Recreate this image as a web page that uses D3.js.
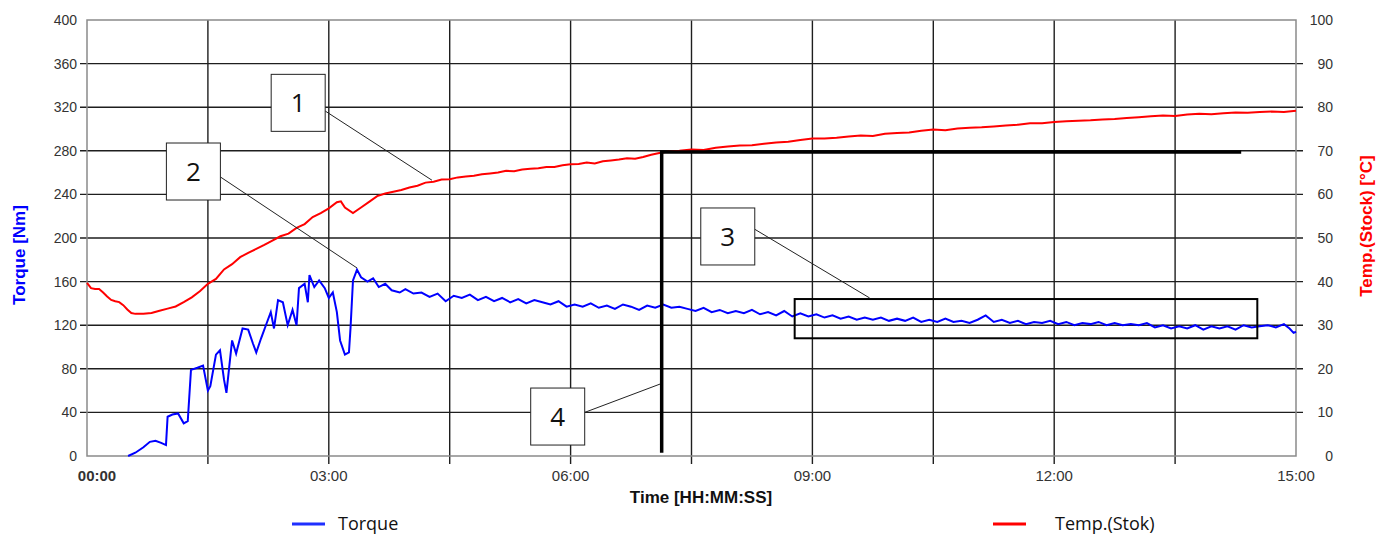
<!DOCTYPE html>
<html>
<head>
<meta charset="utf-8">
<script src="https://cdn.jsdelivr.net/npm/d3@7"></script>
<style>
  body { margin: 0; background: #fff; }
  svg { display: block; }
</style>
</head>
<body>
<script>
// Time in minutes, torque in Nm, temperature in °C
const torqueTime = [0.51, 0.6, 0.7, 0.78, 0.85, 0.92, 0.98, 1.0, 1.06, 1.13, 1.2, 1.25, 1.29, 1.37, 1.44, 1.5, 1.53, 1.6, 1.65, 1.7, 1.73, 1.8, 1.85, 1.93, 2.0, 2.06, 2.1, 2.16, 2.23, 2.28, 2.32, 2.37, 2.43, 2.49, 2.55, 2.6, 2.63, 2.7, 2.74, 2.76, 2.82, 2.88, 2.95, 3.0, 3.05, 3.1, 3.14, 3.2, 3.25, 3.27, 3.3, 3.35, 3.4, 3.48, 3.55, 3.62, 3.7, 3.78, 3.88, 3.95, 4.05, 4.15, 4.25, 4.35, 4.45, 4.55, 4.65, 4.75, 4.85, 4.95, 5.05, 5.15, 5.25, 5.35, 5.45, 5.55, 5.65, 5.75, 5.85, 5.95, 6.05, 6.15, 6.25, 6.35, 6.45, 6.55, 6.65, 6.75, 6.85, 6.95, 7.05, 7.15, 7.25, 7.35, 7.45, 7.55, 7.65, 7.75, 7.85, 7.95, 8.05, 8.15, 8.25, 8.35, 8.45, 8.55, 8.65, 8.75, 8.85, 8.95, 9.05, 9.15, 9.25, 9.35, 9.45, 9.55, 9.65, 9.75, 9.85, 9.95, 10.05, 10.15, 10.25, 10.35, 10.45, 10.55, 10.65, 10.75, 10.85, 10.95, 11.05, 11.15, 11.25, 11.35, 11.45, 11.55, 11.65, 11.75, 11.85, 11.95, 12.05, 12.15, 12.25, 12.35, 12.45, 12.55, 12.65, 12.75, 12.85, 12.95, 13.05, 13.15, 13.25, 13.35, 13.45, 13.55, 13.65, 13.75, 13.85, 13.95, 14.05, 14.15, 14.25, 14.35, 14.45, 14.55, 14.65, 14.75, 14.85, 14.92, 14.97, 15.0];
const torqueValues = [0, 3, 8, 13, 14, 12, 10, 36, 38, 39, 30, 32, 79, 81, 83, 60, 64, 93, 97, 70, 58, 106, 94, 117, 116, 103, 95, 108, 122, 132, 117, 143, 141, 120, 134, 120, 154, 158, 141, 166, 155, 161, 154, 145, 150, 132, 106, 93, 95, 118, 161, 171, 164, 160, 163, 155, 158, 152, 150, 153, 149, 150, 146, 149, 142, 147, 145, 148, 143, 146, 142, 145, 141, 144, 140, 143, 141, 139, 142, 137, 139, 137, 140, 136, 138, 135, 139, 137, 134, 138, 136, 139, 136, 137, 135, 133, 136, 132, 134, 131, 133, 131, 134, 130, 132, 129, 133, 128, 131, 128, 130, 127, 129, 126, 128, 125, 127, 125, 127, 124, 126, 124, 127, 123, 125, 123, 126, 123, 124, 122, 125, 129, 123, 125, 122, 124, 121, 123, 122, 124, 121, 123, 120, 122, 121, 123, 120, 122, 120, 121, 120, 122, 118, 120, 117, 119, 117, 120, 116, 119, 117, 119, 116, 120, 118, 119, 120, 118, 121, 117, 113, 114];

const tempTime = [0, 0.05, 0.1, 0.15, 0.2, 0.25, 0.3, 0.35, 0.4, 0.45, 0.5, 0.55, 0.6, 0.7, 0.8, 0.9, 1.0, 1.1, 1.2, 1.3, 1.4, 1.5, 1.6, 1.7, 1.8, 1.9, 2.0, 2.1, 2.2, 2.3, 2.4, 2.5, 2.6, 2.7, 2.8, 2.9, 3.0, 3.1, 3.15, 3.2, 3.3, 3.4, 3.5, 3.6, 3.7, 3.8, 3.9, 4.0, 4.1, 4.2, 4.3, 4.4, 4.5, 4.6, 4.7, 4.8, 4.9, 5.0, 5.1, 5.2, 5.3, 5.4, 5.5, 5.6, 5.7, 5.8, 5.9, 6.0, 6.1, 6.2, 6.3, 6.4, 6.5, 6.6, 6.7, 6.8, 6.9, 7.0, 7.1, 7.2, 7.35, 7.5, 7.65, 7.8, 7.95, 8.1, 8.25, 8.4, 8.55, 8.7, 8.85, 9.0, 9.15, 9.3, 9.45, 9.6, 9.75, 9.9, 10.05, 10.2, 10.35, 10.5, 10.65, 10.8, 10.95, 11.1, 11.25, 11.4, 11.55, 11.7, 11.85, 12.0, 12.15, 12.3, 12.45, 12.6, 12.75, 12.9, 13.05, 13.2, 13.35, 13.5, 13.65, 13.8, 13.95, 14.1, 14.25, 14.4, 14.55, 14.7, 14.85, 15.0];
const tempValues = [39.7, 38.5, 38.3, 38.3, 37.5, 36.6, 35.8, 35.5, 35.3, 34.6, 33.6, 32.8, 32.6, 32.6, 32.8, 33.3, 33.8, 34.3, 35.3, 36.4, 37.8, 39.5, 40.6, 42.8, 44.0, 45.6, 46.6, 47.5, 48.4, 49.4, 50.4, 51.0, 52.3, 53.2, 54.8, 55.7, 56.8, 58.2, 58.4, 57.0, 55.7, 57.0, 58.3, 59.6, 60.2, 60.6, 61.0, 61.6, 62.0, 62.7, 62.9, 63.4, 63.5, 63.9, 64.1, 64.3, 64.6, 64.8, 65.0, 65.4, 65.3, 65.7, 65.9, 66.0, 66.3, 66.3, 66.7, 66.9, 67.0, 67.3, 67.1, 67.6, 67.8, 68.0, 68.3, 68.2, 68.6, 69.1, 69.5, 69.8, 70.0, 70.3, 70.2, 70.7, 71.0, 71.2, 71.3, 71.6, 71.9, 72.1, 72.5, 72.8, 72.8, 73.0, 73.3, 73.5, 73.4, 73.9, 74.1, 74.2, 74.6, 74.9, 74.7, 75.1, 75.3, 75.4, 75.6, 75.8, 76.0, 76.3, 76.3, 76.6, 76.8, 76.9, 77.0, 77.2, 77.3, 77.5, 77.7, 77.9, 78.1, 78.0, 78.3, 78.5, 78.4, 78.6, 78.8, 78.7, 78.9, 79.0, 78.9, 79.2];

const torqueTicks = [0, 40, 80, 120, 160, 200, 240, 280, 320, 360, 400];
const tempTicks = [0, 10, 20, 30, 40, 50, 60, 70, 80, 90, 100];
const gridTimes = [0, 1.5, 3, 4.5, 6, 7.5, 9, 10.5, 12, 13.5, 15];
const labelTimes = [0, 3, 6, 9, 12, 15];

// numbered callouts: box centre and leader target, in (minutes, Nm)
const callouts = [
  { label: "1", t: 2.62, q: 324, fromQ: 316.5, toT: 4.28, toQ: 253 },
  { label: "2", t: 1.32, q: 261, fromQ: 256, toT: 3.35, toQ: 172.5 },
  { label: "3", t: 7.95, q: 201.4, fromQ: 208, toT: 9.71, toQ: 145 },
  { label: "4", t: 5.84, q: 36.2, fromQ: 40, toT: 7.11, toQ: 66 }
];

const width = 1387;
const height = 535;
const margin = { top: 20, right: 91, bottom: 79, left: 87 };

const x = d3.scaleLinear().domain([0, 15]).range([margin.left, width - margin.right]);
const yL = d3.scaleLinear().domain([0, 400]).range([height - margin.bottom, margin.top]);
const yR = d3.scaleLinear().domain([0, 100]).range([height - margin.bottom, margin.top]);

const fmtTime = t => `${String(Math.floor(t)).padStart(2, '0')}:00`;

const svg = d3.select('body').append('svg')
    .attr('width', width)
    .attr('height', height);

const tickFont = '"Liberation Sans", Arial, sans-serif';

// horizontal grid lines (extend a bit past the plot on both sides)
svg.append('g')
  .selectAll('line')
  .data(torqueTicks.slice(1, -1))
  .join('line')
    .attr('x1', x(0) - 7)
    .attr('x2', x(15) + 7)
    .attr('y1', d => yL(d))
    .attr('y2', d => yL(d))
    .style('stroke', '#1e1e1e')
    .style('stroke-width', 1.4);

// vertical grid lines
svg.append('g')
  .selectAll('line')
  .data(gridTimes.slice(1, -1))
  .join('line')
    .attr('x1', d => x(d))
    .attr('x2', d => x(d))
    .attr('y1', yL(400))
    .attr('y2', yL(0) + 8)
    .style('stroke', '#1e1e1e')
    .style('stroke-width', 1.4);

// plot frame
svg.append('rect')
    .attr('x', x(0))
    .attr('y', yL(400))
    .attr('width', x(15) - x(0))
    .attr('height', yL(0) - yL(400))
    .style('fill', 'none')
    .style('stroke', '#8a8a8a')
    .style('stroke-width', 1.5);

// left axis labels
svg.append('g')
  .selectAll('text')
  .data(torqueTicks)
  .join('text')
    .attr('x', x(0) - 10)
    .attr('y', d => yL(d))
    .attr('dy', '0.35em')
    .attr('text-anchor', 'end')
    .style('font-family', tickFont)
    .style('font-size', '14px')
    .style('fill', '#333')
    .text(d => d);

// right axis labels
svg.append('g')
  .selectAll('text')
  .data(tempTicks)
  .join('text')
    .attr('x', x(15) + 37)
    .attr('y', d => yR(d))
    .attr('dy', '0.35em')
    .attr('text-anchor', 'end')
    .style('font-family', tickFont)
    .style('font-size', '14px')
    .style('fill', '#333')
    .text(d => d);

// bottom axis labels
svg.append('g')
  .selectAll('text')
  .data(labelTimes)
  .join('text')
    .attr('x', d => x(d) + (d === 0 ? 10 : 0))
    .attr('y', yL(0) + 25)
    .attr('text-anchor', 'middle')
    .style('font-family', tickFont)
    .style('font-size', '15px')
    .style('font-weight', d => d === 0 ? 'bold' : 'normal')
    .style('fill', '#333')
    .text(fmtTime);

// axis titles
svg.append('text')
    .attr('transform', `translate(25,${(yL(0) + yL(400)) / 2 + 17}) rotate(-90)`)
    .attr('text-anchor', 'middle')
    .style('font-family', tickFont)
    .style('font-size', '17px')
    .style('font-weight', 'bold')
    .style('fill', '#0000ff')
    .text('Torque [Nm]');

svg.append('text')
    .attr('transform', `translate(1372,${(yL(0) + yL(400)) / 2 - 12}) rotate(-90)`)
    .attr('text-anchor', 'middle')
    .style('font-family', tickFont)
    .style('font-size', '17px')
    .style('font-weight', 'bold')
    .style('fill', '#ff0000')
    .text('Temp.(Stock) [°C]');

svg.append('text')
    .attr('x', 701)
    .attr('y', 503)
    .attr('text-anchor', 'middle')
    .style('font-family', tickFont)
    .style('font-size', '17px')
    .style('font-weight', 'bold')
    .style('fill', '#111')
    .text('Time [HH:MM:SS]');

// series
const torqueData = torqueTime.map((t, i) => [t, torqueValues[i]]);
const tempData = tempTime.map((t, i) => [t, tempValues[i]]);

const torqueLine = d3.line()
    .x(d => x(d[0]))
    .y(d => yL(d[1]));

const tempLine = d3.line()
    .x(d => x(d[0]))
    .y(d => yR(d[1]));

svg.append('path')
    .datum(tempData)
    .attr('d', tempLine)
    .style('fill', 'none')
    .style('stroke', '#ff0000')
    .style('stroke-width', 2);

svg.append('path')
    .datum(torqueData)
    .attr('d', torqueLine)
    .style('fill', 'none')
    .style('stroke', '#0000ff')
    .style('stroke-width', 2);

// thick L marker at 280 Nm / 70 °C
svg.append('path')
    .attr('d', d3.line()([[x(7.13), yL(3)], [x(7.13), yL(279)], [x(14.32), yL(279)]]))
    .style('fill', 'none')
    .style('stroke', '#000')
    .style('stroke-width', 3.5);

// highlight box around steady torque
svg.append('rect')
    .attr('x', x(8.78))
    .attr('y', yL(144))
    .attr('width', x(14.52) - x(8.78))
    .attr('height', yL(108) - yL(144))
    .style('fill', 'none')
    .style('stroke', '#000')
    .style('stroke-width', 2);

// callouts
const boxW = 54;
const boxH = 57;
const callout = svg.append('g')
  .selectAll('g')
  .data(callouts)
  .join('g');

callout.append('line')
    .attr('x1', d => x(d.t) + boxW / 2)
    .attr('y1', d => yL(d.fromQ))
    .attr('x2', d => x(d.toT))
    .attr('y2', d => yL(d.toQ))
    .style('stroke', '#222')
    .style('stroke-width', 1);

callout.append('rect')
    .attr('x', d => x(d.t) - boxW / 2)
    .attr('y', d => yL(d.q) - boxH / 2)
    .attr('width', boxW)
    .attr('height', boxH)
    .style('fill', '#fff')
    .style('stroke', '#222')
    .style('stroke-width', 1);

callout.append('text')
    .attr('x', d => x(d.t))
    .attr('y', d => yL(d.q))
    .attr('dy', '0.36em')
    .attr('text-anchor', 'middle')
    .style('font-family', '"Open Sans", "Noto Sans", sans-serif')
    .style('font-size', '26px')
    .style('fill', '#111')
    .text(d => d.label);

// legend
const legend = [
  { name: 'Torque', color: '#1f2fff', x: 292 },
  { name: 'Temp.(Stok)', color: '#ff0000', x: 993 }
];
const lg = svg.append('g')
  .selectAll('g')
  .data(legend)
  .join('g')
    .attr('transform', d => `translate(${d.x},524)`);

lg.append('line')
    .attr('x1', 0)
    .attr('x2', 33)
    .style('stroke', d => d.color)
    .style('stroke-width', 3);

lg.append('text')
    .attr('x', d => d.name === 'Torque' ? 46 : 62)
    .attr('dy', '0.35em')
    .style('font-family', '"Open Sans", "Noto Sans", sans-serif')
    .style('font-size', '18px')
    .style('fill', '#111')
    .text(d => d.name);
</script>
</body>
</html>
